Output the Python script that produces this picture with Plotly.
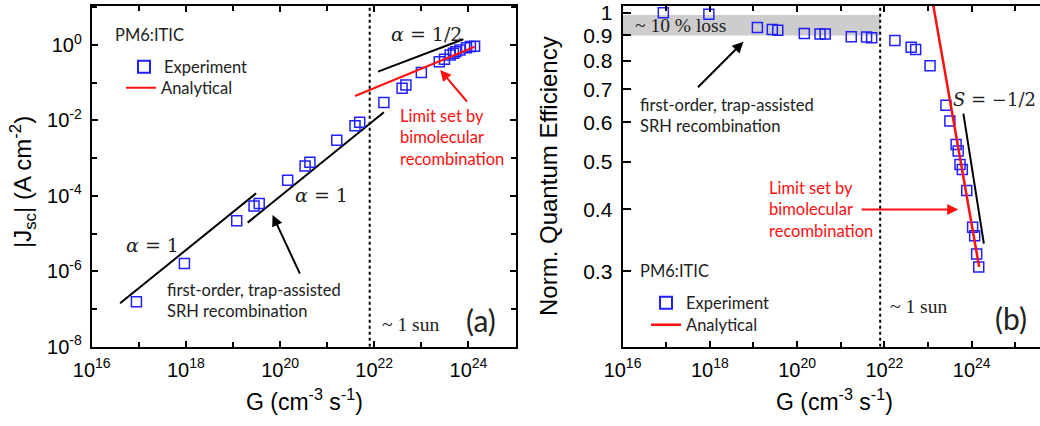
import numpy as np
import plotly.graph_objects as go

# ---------------- data ----------------
# (a) short-circuit current density vs generation rate
G_a = [8.9e16, 9.3e17, 1.2e19, 2.8e19, 3.6e19, 1.45e20, 3.4e20, 4.3e20, 1.6e21,
       3.9e21, 4.9e21, 1.6e22, 3.9e22, 4.7e22, 1.0e23, 2.4e23, 3.1e23, 4.1e23,
       4.8e23, 5.4e23, 6.6e23, 9.1e23, 1.1e24, 1.35e24]
J_a = [1.55e-7, 1.6e-6, 2.2e-5, 5.4e-5, 6.3e-5, 2.6e-4, 6.2e-4, 7.8e-4, 3.0e-3,
       7.2e-3, 8.9e-3, 3.0e-2, 7.1e-2, 8.7e-2, 0.186, 0.36, 0.42, 0.54,
       0.60, 0.66, 0.74, 0.85, 0.91, 0.93]

# analytical (bimolecular limit) and guide slopes for (a)
G_an_a = [3.9e21, 1.35e24]
J_an_a = [4.45e-2, 0.90]
G_slope1_lo = [4.0e16, 3.1e19]
J_slope1_lo = [1.41e-7, 1.17e-4]
G_slope1_hi = [2.05e19, 1.6e22]
J_slope1_hi = [1.95e-5, 1.64e-2]
G_slope_half = [1.2e22, 7.8e23]
J_slope_half = [0.196, 1.42]

# (b) normalised quantum efficiency vs generation rate
G_b = [8.6e16, 9.5e17, 1.23e19, 2.7e19, 3.6e19, 1.46e20, 3.35e20, 4.4e20, 1.74e21,
       3.9e21, 5.1e21, 1.74e22, 4.1e22, 5.2e22, 1.11e23, 2.57e23, 3.16e23, 4.4e23,
       4.9e23, 5.4e23, 6.1e23, 7.7e23, 1.05e24, 1.17e24, 1.3e24, 1.45e24]
EQE_b = [1.0, 0.993, 0.934, 0.925, 0.922, 0.908, 0.906, 0.906, 0.894,
         0.893, 0.89, 0.879, 0.852, 0.843, 0.781, 0.65, 0.604, 0.541,
         0.525, 0.493, 0.482, 0.437, 0.368, 0.354, 0.325, 0.306]

G_an_b = [1.0e23, 1.48e24]
EQE_an_b = [1.19, 0.306]
G_slope_b = [6.45e23, 1.9e24]
EQE_slope_b = [0.625, 0.341]

G_one_sun = 8e21
loss_band = [0.9, 0.99]

# axis extents (log10 units)
XA_RANGE = [16, 25]
YA_RANGE = [-8, 1.034]
XB_RANGE = [16, 25.565]
YB_RANGE = [float(np.log10(0.211)), float(np.log10(1.032))]

x_major = [1e16, 1e18, 1e20, 1e22, 1e24]
x_major_text = ["10<sup>16</sup>", "10<sup>18</sup>", "10<sup>20</sup>",
                "10<sup>22</sup>", "10<sup>24</sup>"]
x_minor = [1e17, 1e19, 1e21, 1e23, 1e25]
ya_major = [1e-8, 1e-6, 1e-4, 1e-2, 1e0]
ya_major_text = ["10<sup>-8</sup>", "10<sup>-6</sup>", "10<sup>-4</sup>",
                 "10<sup>-2</sup>", "10<sup>0</sup>"]
ya_minor = [1e-7, 1e-5, 1e-3, 1e-1, 1e1]
yb_major = [0.3, 0.4, 0.5, 0.6, 0.7, 0.8, 0.9, 1.0]
yb_major_text = ["0.3", "0.4", "0.5", "0.6", "0.7", "0.8", "0.9", "1"]

# ---------------- styling ----------------
BLUE = "#1f1fff"
RED = "#ff1010"
SANS = "Liberation Sans, Arial, sans-serif"
LABEL = "Lato, Noto Sans, sans-serif"
SERIF = "Liberation Serif, Times New Roman, serif"
MATH = "DejaVu Serif, serif"
TXT = "#222222"

fig = go.Figure()

# ~10 % loss band (b) and 1-sun markers
fig.add_trace(go.Scatter(x=[1e16, G_one_sun, G_one_sun, 1e16, 1e16],
                         y=[loss_band[0], loss_band[0], loss_band[1], loss_band[1], loss_band[0]],
                         mode="lines", fill="toself", fillcolor="#cdcdcd",
                         line=dict(width=0, color="#cdcdcd"), showlegend=False,
                         hoverinfo="skip", xaxis="x2", yaxis="y2"))
fig.add_trace(go.Scatter(x=[G_one_sun, G_one_sun],
                         y=[10 ** YA_RANGE[0], 10 ** YA_RANGE[1]], mode="lines",
                         line=dict(color="black", width=2, dash="dot"),
                         showlegend=False, hoverinfo="skip", xaxis="x", yaxis="y"))
fig.add_trace(go.Scatter(x=[G_one_sun, G_one_sun],
                         y=[10 ** YB_RANGE[0], 10 ** YB_RANGE[1]], mode="lines",
                         line=dict(color="black", width=2, dash="dot"),
                         showlegend=False, hoverinfo="skip", xaxis="x2", yaxis="y2"))

# (a) traces
for gx, jy in ((G_slope1_lo, J_slope1_lo), (G_slope1_hi, J_slope1_hi),
               (G_slope_half, J_slope_half)):
    fig.add_trace(go.Scatter(x=gx, y=jy, mode="lines",
                             line=dict(color="black", width=2), showlegend=False,
                             xaxis="x", yaxis="y"))
fig.add_trace(go.Scatter(x=G_a, y=J_a, mode="markers", name="Experiment",
                         marker=dict(symbol="square-open", size=10, color=BLUE,
                                     line=dict(width=1.5, color=BLUE)),
                         legend="legend", xaxis="x", yaxis="y"))
fig.add_trace(go.Scatter(x=G_an_a, y=J_an_a, mode="lines", name="Analytical",
                         line=dict(color=RED, width=2),
                         legend="legend2", xaxis="x", yaxis="y"))

# (b) traces
fig.add_trace(go.Scatter(x=G_slope_b, y=EQE_slope_b, mode="lines",
                         line=dict(color="black", width=2), showlegend=False,
                         xaxis="x2", yaxis="y2"))
fig.add_trace(go.Scatter(x=G_b, y=EQE_b, mode="markers", name="Experiment",
                         marker=dict(symbol="square-open", size=10, color=BLUE,
                                     line=dict(width=1.5, color=BLUE)),
                         legend="legend3", xaxis="x2", yaxis="y2"))
fig.add_trace(go.Scatter(x=G_an_b, y=EQE_an_b, mode="lines", name="Analytical",
                         line=dict(color=RED, width=2.5),
                         legend="legend4", xaxis="x2", yaxis="y2"))

# ---------------- axes ----------------
def axis(**kw):
    base = dict(type="log", autorange=False, automargin=False, showline=True,
                linecolor="black", linewidth=2, ticks="inside", ticklen=6,
                tickwidth=1.5, tickcolor="black", mirror="ticks", showgrid=False,
                zeroline=False, tickmode="array", ticklabelstandoff=4,
                tickfont=dict(family=SANS, size=20, color="black"))
    base.update(kw)
    return base

minor_x = dict(tickvals=x_minor, ticks="inside", ticklen=5, tickwidth=1.5,
               tickcolor="black", showgrid=False)

y_dom = [0.1862, 0.9859]
fig.update_layout(
    xaxis=axis(domain=[0.0882, 0.4957], range=XA_RANGE, anchor="y",
               tickvals=x_major, ticktext=x_major_text, minor=minor_x),
    yaxis=axis(domain=y_dom, range=YA_RANGE, anchor="x",
               tickvals=ya_major, ticktext=ya_major_text,
               minor=dict(tickvals=ya_minor, ticks="inside", ticklen=5,
                          tickwidth=1.5, tickcolor="black", showgrid=False)),
    xaxis2=axis(domain=[0.5986, 1.0], range=XB_RANGE, anchor="y2",
                tickvals=x_major, ticktext=x_major_text, minor=minor_x),
    yaxis2=axis(domain=y_dom, range=YB_RANGE, anchor="x2", mirror=False,
                ticklen=8, tickvals=yb_major, ticktext=yb_major_text,
                tickfont=dict(family=SANS, size=21, color="black")),
)

# ---------------- annotations ----------------
ann = []

def text(s, xref, yref, x, y, family=LABEL, size=16.5, color=TXT,
         xanchor="left", align="left"):
    ann.append(dict(text=s, xref=xref, yref=yref, x=x, y=y, showarrow=False,
                    xanchor=xanchor, yanchor="middle", align=align,
                    font=dict(family=family, size=size, color=color)))

def arrow(xref, yref, x, y, ax, ay, color):
    ann.append(dict(text="", xref=xref, yref=yref, x=x, y=y, ax=ax, ay=ay,
                    showarrow=True, arrowhead=2, arrowsize=1.1, arrowwidth=2,
                    arrowcolor=color))

# panel (a)
A = ("x domain", "y domain")
text("PM6:ITIC", *A, 0.050, 0.915)
text("<i>α</i> = 1/2", *A, 0.790, 0.918, family=MATH, size=19, xanchor="center")
text("Limit set by<br>bimolecular<br>recombination", *A, 0.723, 0.614, color=RED)
text("<i>α</i> = 1", *A, 0.542, 0.446, family=MATH, size=19, xanchor="center")
text("<i>α</i> = 1", *A, 0.143, 0.299, family=MATH, size=19, xanchor="center")
text("first-order, trap-assisted<br>SRH recombination", *A, 0.173, 0.136)
text("~ 1 sun", *A, 0.680, 0.064, family=SERIF, size=19.5)
text("(a)", *A, 0.919, 0.078, size=30, xanchor="center")
arrow("x", "y", 19.84, -4.51, 28, 60, "black")
arrow("x", "y", 23.40, -0.663, 28, 33, RED)

# panel (b)
B = ("x2 domain", "y2 domain")
text("~ 10 % loss", *B, 0.025, 0.942, family=SERIF, size=19.5)
text("first-order, trap-assisted<br>SRH recombination", *B, 0.037, 0.679)
text("<i>S</i> = −1/2", *B, 0.996, 0.727, family=MATH, size=18, xanchor="right")
text("Limit set by<br>bimolecular<br>recombination", *B, 0.345, 0.403, color=RED)
text("PM6:ITIC", *B, 0.037, 0.222)
text("~ 1 sun", *B, 0.637, 0.117, family=SERIF, size=19.5)
text("(b)", *B, 0.930, 0.084, size=30, xanchor="center")
arrow("x2", "y2", 18.77, -0.0587, -47, 47, "black")
arrow("x2", "y2", 23.69, -0.398, -98, 0, RED)

# axis titles
ann.append(dict(text="|J<sub>sc</sub>| (A cm<sup>-2</sup>)", xref="paper", yref="paper",
                x=23 / 1040, y=1 - 182 / 426, showarrow=False, textangle=-90,
                xanchor="center", yanchor="middle",
                font=dict(family=SANS, size=24, color="black")))
ann.append(dict(text="Norm. Quantum Efficiency", xref="paper", yref="paper",
                x=548 / 1040, y=1 - 176 / 426, showarrow=False, textangle=-90,
                xanchor="center", yanchor="middle",
                font=dict(family=SANS, size=24, color="black")))
for xc in (304 / 1040, 834 / 1040):
    ann.append(dict(text="G (cm<sup>-3</sup> s<sup>-1</sup>)", xref="paper", yref="paper",
                    x=xc, y=1 - 400 / 426, showarrow=False,
                    xanchor="center", yanchor="middle",
                    font=dict(family=SANS, size=23, color="black")))

fig.update_layout(annotations=ann)

# ---------------- legends & canvas ----------------
leg = dict(bgcolor="rgba(0,0,0,0)", font=dict(family=LABEL, size=16.5, color=TXT),
           xanchor="left", yanchor="middle", itemwidth=30)
fig.update_layout(
    legend=dict(leg, x=124 / 1040, y=1 - 67 / 426, itemsizing="constant"),
    legend2=dict(leg, x=121 / 1040, y=1 - 88 / 426),
    legend3=dict(leg, x=646 / 1040, y=1 - 303 / 426, itemsizing="constant"),
    legend4=dict(leg, x=646 / 1040, y=1 - 325 / 426),
    width=1040, height=426,
    margin=dict(l=0, r=0, t=0, b=0, autoexpand=False),
    paper_bgcolor="white", plot_bgcolor="white",
)

fig.write_html("out.html")
